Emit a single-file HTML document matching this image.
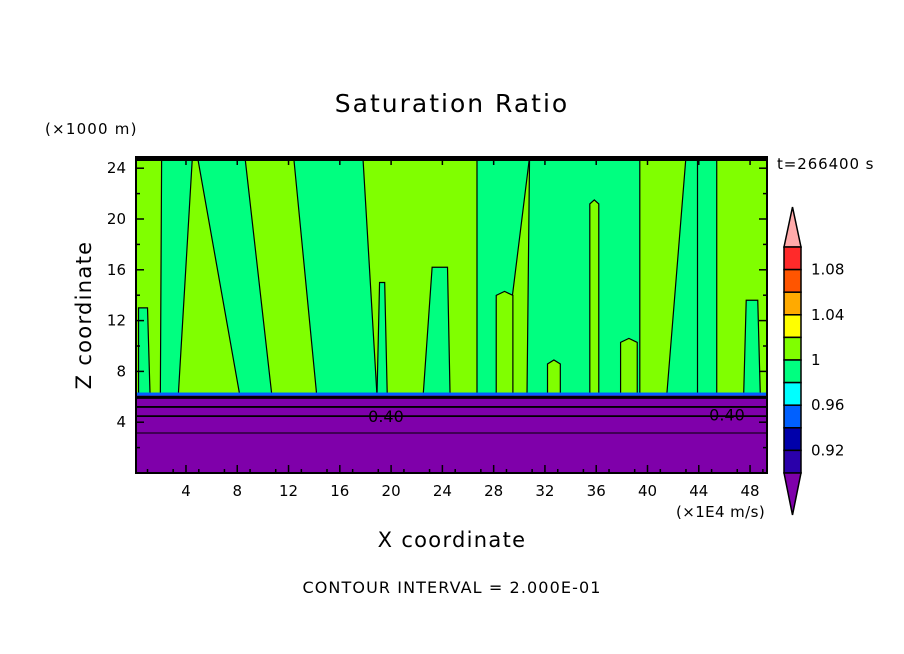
<!DOCTYPE html>
<html><head><meta charset="utf-8">
<style>
html,body{margin:0;padding:0;background:#fff;}
svg{display:block;font-family:"DejaVu Sans","Liberation Sans",sans-serif;}
</style></head>
<body>
<svg id="chart" width="904" height="654" viewBox="0 0 904 654" xmlns="http://www.w3.org/2000/svg">
<rect x="0" y="0" width="904" height="654" fill="#fff"/>
<text x="452" y="112" text-anchor="middle" font-size="25" letter-spacing="2" fill="#000">Saturation Ratio</text>
<text x="45" y="134" font-size="15" letter-spacing="1.2" fill="#000">(×1000 m)</text>
<text x="777" y="169" font-size="15" letter-spacing="0.9" fill="#000">t=266400 s</text>
<text x="91" y="315" font-size="21" letter-spacing="1.3" text-anchor="middle" transform="rotate(-90 91 315)" fill="#000">Z coordinate</text>
<text x="452" y="547" font-size="21" letter-spacing="1.3" text-anchor="middle" fill="#000">X coordinate</text>
<text x="676" y="517" font-size="15" letter-spacing="0.4" fill="#000">(×1E4 m/s)</text>
<text x="452" y="593" font-size="16" letter-spacing="1.1" text-anchor="middle" fill="#000">CONTOUR INTERVAL = 2.000E-01</text>
<g id="plot"></g>
<g id="cbar"></g>
</svg>
<script>
// data (x in 1E4 m/s, z in 1000 m)
const xTicks = [4, 8, 12, 16, 20, 24, 28, 32, 36, 40, 44, 48];
const yTicks = [4, 8, 12, 16, 20, 24];
// spring-green (ratio 0.98-1.00) bands
const bandXLB = [0.3, 2.0, 8.2, 14.2, 18.9, 22.5, 26.7, 30.6, 41.5, 43.9, 47.5];
const bandXRB = [1.2, 3.4, 10.7, 18.9, 19.7, 24.6, 28.5, 39.4, 44.1, 45.4, 48.8];
const bandXLT = [0.3, 2.1, 4.9, 12.4, 19.1, 23.2, 26.7, 30.8, 43.0, 43.9, 47.7];
const bandXRT = [1.0, 4.5, 8.6, 17.8, 19.5, 24.4, 30.8, 39.4, 44.1, 45.4, 48.6];
const bandZTop = [13, 24.9, 24.9, 24.9, 15, 16.2, 24.9, 24.9, 24.9, 24.9, 13.6];
// lime tongues (ratio 1.00-1.02)
const tongueXL = [32.2, 37.9, 28.2, 35.5];
const tongueXR = [33.2, 39.2, 29.5, 36.2];
const tongueZ = [8.9, 10.6, 14.3, 21.5];
const purpleTop = 6.1;
const contourZ = [5.95, 5.2, 4.48, 3.15];
const contourLabels = [{x: 19.6, z: 4.48, t: "0.40"}, {x: 46.2, z: 4.6, t: "0.40"}];
const cbColors = ["#ff2a2a", "#ff5500", "#ffaa00", "#ffff00", "#80ff00", "#00ff80", "#00ffff", "#0060ff", "#0000aa", "#2a00aa"];
const cbLabels = ["1.08", "1.04", "1", "0.96", "0.92"];

const L = 136, R = 767, T = 157, B = 473;
const X0 = 134.7, XS = 12.82, ZS = 12.7;
const sx = v => X0 + v * XS;
const sy = v => B - v * ZS;
const NS = "http://www.w3.org/2000/svg";
function mk(tag, attrs, parent) {
  const e = document.createElementNS(NS, tag);
  for (const k in attrs) e.setAttribute(k, attrs[k]);
  parent.appendChild(e);
  return e;
}
const plot = document.getElementById('plot');
const bg = mk('rect', {x: L, y: T, width: R - L, height: B - T, fill: '#80ff00'}, plot);


const pBot = sy(purpleTop);
for (let i = 0; i < bandXLB.length; i++) {
  const yt = Math.max(sy(bandZTop[i]), T);
  const pts = [[sx(bandXLB[i]), pBot], [sx(bandXLT[i]), yt], [sx(bandXRT[i]), yt], [sx(bandXRB[i]), pBot]];
  const p = mk('polygon', {points: pts.map(q => q.join(',')).join(' '), fill: '#00ff80', stroke: '#000', 'stroke-width': 1.2}, plot);
  
  
}
for (let i = 0; i < tongueXL.length; i++) {
  const yt = sy(tongueZ[i]);
  const p = mk('polygon', {points: `${sx(tongueXL[i])},${pBot} ${sx(tongueXL[i])},${yt+4} ${(sx(tongueXL[i])+sx(tongueXR[i]))/2},${yt} ${sx(tongueXR[i])},${yt+4} ${sx(tongueXR[i])},${pBot}`, fill: '#80ff00', stroke: '#000', 'stroke-width': 1.2}, plot);
  
  
}
const topFringe = mk('rect', {x: L, y: T, width: R - L, height: 4, fill: '#000'}, plot);


const pr = mk('rect', {x: L, y: pBot, width: R - L, height: B - pBot, fill: '#7f00aa'}, plot);


const fr = mk('rect', {x: L, y: pBot - 3, width: R - L, height: 3, fill: '#0060ff'}, plot);


contourZ.forEach((z, i) => {
  const l = mk('line', {x1: L, x2: R, y1: sy(z), y2: sy(z), stroke: '#000', 'stroke-width': i === 0 ? 3 : (i === 3 ? 1 : 1.8)}, plot);
  
  
});
contourLabels.forEach((c, i) => {
  const t = mk('text', {x: sx(c.x), y: sy(c.z) + 6, 'font-size': 16, 'text-anchor': 'middle', fill: '#000'}, plot);
  t.textContent = c.t;
  
  
});
const fm = mk('rect', {x: L, y: T, width: R - L, height: B - T, fill: 'none', stroke: '#000', 'stroke-width': 2}, plot);


for (let v = 1; v <= 49; v++) {
  const major = xTicks.includes(v);
  if (v % 2 === 0 && !major) continue;
  const len = major ? 8 : 4;
  mk('line', {x1: sx(v), x2: sx(v), y1: B, y2: B - len, stroke: '#000', 'stroke-width': 1.5}, plot);
  mk('line', {x1: sx(v), x2: sx(v), y1: T, y2: T + len, stroke: '#000', 'stroke-width': 1.5}, plot);
}
xTicks.forEach(v => {
  const t = mk('text', {x: sx(v), y: 496, 'font-size': 15, 'text-anchor': 'middle', fill: '#000'}, plot);
  t.textContent = v;
  
  
});
for (let v = 2; v <= 24; v += 2) {
  const major = yTicks.includes(v);
  const len = major ? 8 : 4;
  mk('line', {x1: L, x2: L + len, y1: sy(v), y2: sy(v), stroke: '#000', 'stroke-width': 1.5}, plot);
  mk('line', {x1: R, x2: R - len, y1: sy(v), y2: sy(v), stroke: '#000', 'stroke-width': 1.5}, plot);
}
yTicks.forEach(v => {
  const t = mk('text', {x: 126, y: sy(v) + 5, 'font-size': 15, 'text-anchor': 'end', fill: '#000'}, plot);
  t.textContent = v;
  
  
});
const cb = document.getElementById('cbar');
const cx = 784, cw = 17, cTop = 247, cBot = 473, seg = (cBot - cTop) / cbColors.length;
const tt = mk('polygon', {points: `${cx},${cTop} ${cx + cw / 2},207 ${cx + cw},${cTop}`, fill: '#ffaaaa', stroke: '#000', 'stroke-width': 1.5}, cb);


cbColors.forEach((c, i) => {
  const r = mk('rect', {x: cx, y: cTop + i * seg, width: cw, height: seg, fill: c, stroke: '#000', 'stroke-width': 1.5}, cb);
  
  
});
const bt = mk('polygon', {points: `${cx},${cBot} ${cx + cw / 2},515 ${cx + cw},${cBot}`, fill: '#7f00aa', stroke: '#000', 'stroke-width': 1.5}, cb);


cbLabels.forEach((s, i) => {
  const t = mk('text', {x: 811, y: cTop + (i * 2 + 1) * seg + 5, 'font-size': 15, fill: '#000'}, cb);
  t.textContent = s;
  
  
});
</script>
</body></html>
